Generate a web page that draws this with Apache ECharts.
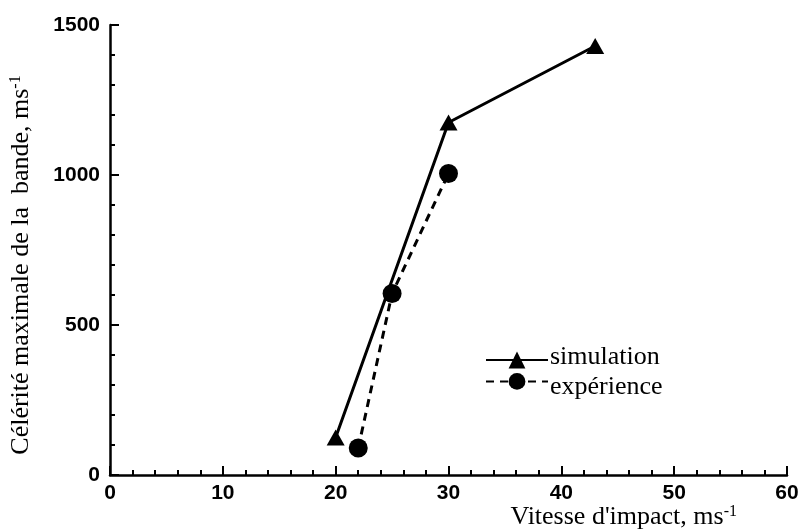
<!DOCTYPE html>
<html>
<head>
<meta charset="utf-8">
<script src="https://cdn.jsdelivr.net/npm/echarts@6/dist/echarts.min.js"></script>
<style>
html,body{margin:0;padding:0;background:#fff;}
#c{width:802px;height:530px;}
</style>
</head>
<body>
<div id="c"></div>
<script>
var simX = [20, 30, 43];
var simY = [125, 1175, 1430];
var expX = [22, 25, 30];
var expY = [90, 605, 1005];
var xTicks = [0, 10, 20, 30, 40, 50, 60];
var yTicks = [0, 500, 1000, 1500];
var seriesNames = ['simulation', 'expérience'];

function pairs(xs, ys) { return xs.map(function (x, i) { return [x, ys[i]]; }); }

var serif = 'Liberation Serif';
var sans = 'Liberation Sans';

function legendFor(name, top, pad) {
  return {
    orient: 'vertical',
    left: 485,
    top: top,
    padding: 0,
    itemWidth: 62,
    itemHeight: 21,
    itemGap: 0,
    selectedMode: false,
    data: [name],
    formatter: function (n) { return '{t|' + n + '}'; },
    textStyle: {
      fontFamily: serif, fontSize: 26, color: '#000',
      rich: { t: { fontFamily: serif, fontSize: 26, color: '#000', padding: pad } }
    }
  };
}

var chart = echarts.init(document.getElementById('c'), null, { renderer: 'canvas' });
chart.setOption({
  backgroundColor: '#ffffff',
  animation: false,
  grid: { left: 110, right: 15, top: 25, bottom: 55, containLabel: false, outerBoundsMode: 'none' },
  legend: [
    legendFor(seriesNames[0], 344, [0, 0, 6, -3]),
    legendFor(seriesNames[1], 373, [12, 0, 0, -3])
  ],
  xAxis: {
    type: 'value',
    min: 0, max: 60, interval: 10,
    name: 'Vitesse d\'impact, ms{sup|-1}',
    nameLocation: 'end',
    nameGap: -50,
    nameTextStyle: {
      fontFamily: serif, fontSize: 26, color: '#000', align: 'right', verticalAlign: 'top',
      padding: [29, 0, 0, 0],
      rich: { sup: { fontFamily: serif, fontSize: 16, color: '#000', verticalAlign: 'top', lineHeight: 12 } }
    },
    axisLine: { onZero: false, lineStyle: { color: '#000', width: 2.5 } },
    axisTick: { inside: true, length: 9, lineStyle: { color: '#000', width: 2 } },
    minorTick: { show: true, splitNumber: 5, length: 5, lineStyle: { color: '#000', width: 2 } },
    splitLine: { show: false },
    axisLabel: {
      margin: 8, fontFamily: sans, fontWeight: 'bold', fontSize: 21, color: '#000',
      formatter: function (v) { return xTicks.indexOf(v) >= 0 ? String(v) : ''; }
    }
  },
  yAxis: {
    type: 'value',
    min: 0, max: 1500, interval: 500,
    name: 'Célérité maximale de la  bande, ms{sup|-1}',
    nameLocation: 'middle',
    nameRotate: 90,
    nameGap: 76,
    nameTextStyle: {
      fontFamily: serif, fontSize: 26, color: '#000',
      padding: [0, 30, 0, 0],
      rich: { sup: { fontFamily: serif, fontSize: 16, color: '#000', verticalAlign: 'top', lineHeight: 12 } }
    },
    axisLine: { show: true, onZero: false, lineStyle: { color: '#000', width: 2.5 } },
    axisTick: { show: true, inside: true, length: 9, lineStyle: { color: '#000', width: 2 } },
    minorTick: { show: true, splitNumber: 5, length: 5, lineStyle: { color: '#000', width: 2 } },
    splitLine: { show: false },
    axisLabel: {
      margin: 10, fontFamily: sans, fontWeight: 'bold', fontSize: 21, color: '#000',
      formatter: function (v) { return yTicks.indexOf(v) >= 0 ? String(v) : ''; }
    }
  },
  series: [
    {
      name: seriesNames[0],
      type: 'line',
      data: pairs(simX, simY),
      symbol: 'triangle',
      symbolSize: [18, 16],
      itemStyle: { color: '#000' },
      lineStyle: { color: '#000', width: 3 }
    },
    {
      name: seriesNames[1],
      type: 'line',
      data: pairs(expX, expY),
      symbol: 'circle',
      symbolSize: 19,
      itemStyle: { color: '#000' },
      lineStyle: { color: '#000', width: 3, type: [8, 6] }
    }
  ]
});
</script>
</body>
</html>
